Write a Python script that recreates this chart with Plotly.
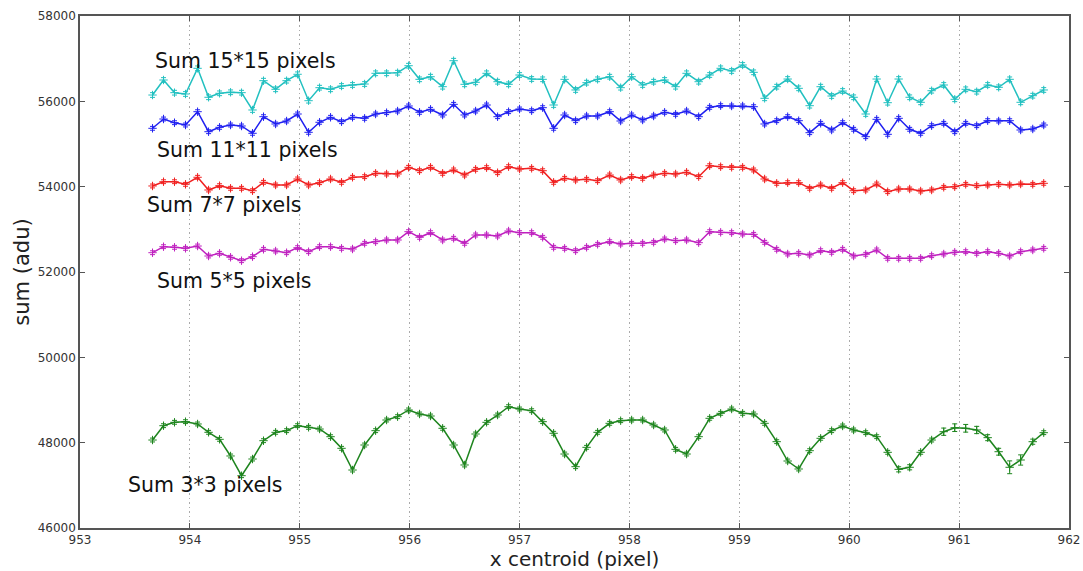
import plotly.graph_objects as go

x_centroid = [953.66, 953.76, 953.86, 953.96, 954.07, 954.17, 954.27, 954.37, 954.47, 954.57,
              954.67, 954.78, 954.88, 954.98, 955.08, 955.18, 955.28, 955.38, 955.48, 955.59,
              955.69, 955.79, 955.89, 955.99, 956.09, 956.19, 956.30, 956.40, 956.50, 956.60,
              956.70, 956.80, 956.90, 957.00, 957.11, 957.21, 957.31, 957.41, 957.51, 957.61,
              957.71, 957.82, 957.92, 958.02, 958.12, 958.22, 958.32, 958.42, 958.52, 958.63,
              958.73, 958.83, 958.93, 959.03, 959.13, 959.23, 959.34, 959.44, 959.54, 959.64,
              959.74, 959.84, 959.94, 960.04, 960.15, 960.25, 960.35, 960.45, 960.55, 960.65,
              960.75, 960.86, 960.96, 961.06, 961.16, 961.26, 961.36, 961.46, 961.56, 961.67,
              961.77]

sum_15 = [56148, 56500, 56203, 56172, 56774, 56095, 56188, 56212, 56203, 55797,
          56484, 56282, 56484, 56634, 56015, 56320, 56282, 56359, 56383, 56406,
          56657, 56657, 56671, 56835, 56516, 56577, 56343, 56952,
          56399, 56446, 56657, 56460, 56399, 56617, 56523, 56516, 55914, 56516,
          56266, 56437, 56516, 56577, 56320, 56577, 56383, 56460, 56500, 56343,
          56657, 56460, 56617, 56774, 56711, 56852, 56680, 56071, 56343,
          56523, 56305, 55898, 56343, 56125, 56242, 56095, 55703, 56523, 55968,
          56523, 56095, 55977, 56249, 56383, 56048, 56282, 56226, 56383, 56329,
          56516, 55977, 56132, 56266]

sum_11 = [55368, 55586, 55499, 55445, 55757, 55288, 55391, 55445, 55422, 55251,
          55640, 55469, 55539, 55703, 55274, 55509, 55626, 55523, 55626, 55602,
          55703, 55734, 55773, 55891, 55743, 55813, 55680, 55930,
          55680, 55773, 55914, 55640, 55757, 55820, 55780, 55851, 55368, 55680,
          55546, 55656, 55656, 55757, 55539, 55680, 55563, 55656, 55743, 55696,
          55773, 55640, 55860, 55898, 55891, 55891, 55874, 55469, 55546,
          55640, 55546, 55265, 55485, 55328, 55499, 55345, 55171, 55579, 55227,
          55602, 55345, 55251, 55429, 55485, 55288, 55485, 55429, 55546, 55539,
          55546, 55328, 55352, 55445]

sum_7 = [54016, 54116, 54116, 54055, 54220, 53922, 54023, 53962, 53962, 53905,
         54102, 54039, 54039, 54180, 54039, 54093, 54180, 54102, 54220, 54234,
         54313, 54297, 54297, 54454, 54374, 54454, 54313, 54391,
         54273, 54407, 54445, 54327, 54468, 54414, 54430, 54374, 54102, 54196,
         54156, 54173, 54140, 54273, 54156, 54234, 54196, 54273, 54313, 54297,
         54337, 54234, 54491, 54468, 54454, 54454, 54391, 54180, 54079,
         54093, 54093, 53962, 54039, 53962, 54093, 53905, 53922, 54062, 53882,
         53945, 53945, 53898, 53922, 53985, 53999, 54055, 54023, 54039, 54055,
         54039, 54062, 54055, 54079]

sum_5 = [52452, 52593, 52579, 52555, 52609, 52375, 52438, 52345, 52265, 52359,
         52532, 52492, 52452, 52570, 52476, 52593, 52593, 52555, 52539, 52673,
         52710, 52750, 52750, 52945, 52813, 52921, 52750, 52790,
         52673, 52867, 52867, 52844, 52961, 52921, 52921, 52813, 52579, 52555,
         52499, 52579, 52649, 52710, 52656, 52673, 52673, 52696, 52773, 52734,
         52750, 52687, 52945, 52930, 52921, 52891, 52883, 52696, 52532,
         52422, 52438, 52398, 52499, 52462, 52532, 52375, 52415, 52516, 52321,
         52321, 52321, 52321, 52382, 52422, 52462, 52476, 52438, 52476, 52438,
         52375, 52476, 52516, 52555]

sum_3 = [48062, 48398, 48477, 48492, 48438, 48243, 48079, 47688, 47226, 47617,
         48046, 48243, 48281, 48398, 48360, 48320, 48140, 47868, 47359, 47945,
         48281, 48531, 48609, 48766, 48672, 48625,
         48337, 47945, 47477, 48203, 48477, 48648, 48843, 48789, 48749, 48492,
         48220, 47734, 47437, 47891, 48243, 48454, 48515, 48531, 48531, 48414,
         48297, 47844, 47734, 48140, 48571, 48688, 48789, 48688, 48672,
         48454, 48023, 47570, 47383, 47812, 48102, 48281, 48391, 48297, 48234,
         48140, 47774, 47375, 47423, 47774, 48062, 48257, 48351, 48337, 48297,
         48117, 47788, 47423, 47594, 48023, 48234]

err_3 = [45, 45, 45, 45, 45, 45, 45, 45, 45, 45,
         45, 45, 45, 45, 45, 45, 45, 45, 45, 45,
         45, 45, 45, 45, 45, 45,
         45, 45, 45, 45, 45, 45, 45, 45, 45, 45,
         45, 45, 45, 45, 45, 45, 45, 45, 45, 45,
         45, 45, 45, 45, 45, 45, 45, 45, 45,
         45, 45, 45, 45, 45, 45, 45, 45, 45, 45,
         45, 45, 60, 60, 45, 45, 85, 90, 90, 85,
         70, 80, 150, 120, 60, 45]

err_15 = 55
err_11 = 45
err_7 = 45
err_5 = 45

series_names = ["Sum 15*15 pixels", "Sum 11*11 pixels", "Sum 7*7 pixels",
                "Sum 5*5 pixels", "Sum 3*3 pixels"]
label_x = [953.66, 953.68, 953.59, 953.68, 953.42]
label_y = [56950, 54860, 53570, 51790, 47010]

x_ticks = [953, 954, 955, 956, 957, 958, 959, 960, 961, 962]
y_ticks = [46000, 48000, 50000, 52000, 54000, 56000, 58000]

colors = ["#22C0C0", "#2020F0", "#F02020", "#BF20BF", "#1E851E"]
ys = [sum_15, sum_11, sum_7, sum_5, sum_3]
errs = [dict(type="constant", value=err_15), dict(type="constant", value=err_11),
        dict(type="constant", value=err_7), dict(type="constant", value=err_5),
        dict(type="data", array=err_3)]

fig = go.Figure()
for name, y, c, e in zip(series_names, ys, colors, errs):
    e = dict(e, visible=True, color=c, thickness=1, width=2.5)
    fig.add_trace(go.Scatter(
        x=x_centroid, y=y, mode="lines+markers", name=name,
        line=dict(color=c, width=1.5),
        marker=dict(symbol="cross-thin", size=6, line=dict(width=1, color=c), color=c),
        error_y=e, showlegend=False))

for name, lx, ly in zip(series_names, label_x, label_y):
    fig.add_annotation(x=lx, y=ly, text=name, showarrow=False, xanchor="left",
                       yanchor="middle", font=dict(family="DejaVu Sans", size=20.5, color="#111"))

fig.update_layout(
    width=1083, height=571,
    margin=dict(l=80, r=14, t=16, b=43),
    plot_bgcolor="white", paper_bgcolor="white",
    font=dict(family="DejaVu Sans", color="#333"),
)
fig.update_xaxes(
    range=[953, 962], tickvals=x_ticks, ticktext=[str(v) for v in x_ticks],
    ticks="inside", ticklen=5, tickcolor="#555", mirror="ticks",
    showline=True, linecolor="#555", linewidth=1.5,
    showgrid=True, gridcolor="#aaa", griddash="1.5px,3px", gridwidth=1,
    zeroline=False, tickfont=dict(size=12, color="#333"), automargin=False,
    title=dict(text="x centroid (pixel)", font=dict(size=20, color="#222"), standoff=4),
)
fig.update_yaxes(
    range=[46000, 58000], tickvals=y_ticks, ticktext=[str(v) for v in y_ticks],
    ticks="inside", ticklen=5, tickcolor="#555", mirror="ticks",
    showline=True, linecolor="#555", linewidth=1.5,
    showgrid=False, zeroline=False, tickfont=dict(size=12, color="#333"), automargin=False,
    title=dict(text="sum (adu)", font=dict(size=21, color="#222"), standoff=2),
)

fig.write_html("out.html")
